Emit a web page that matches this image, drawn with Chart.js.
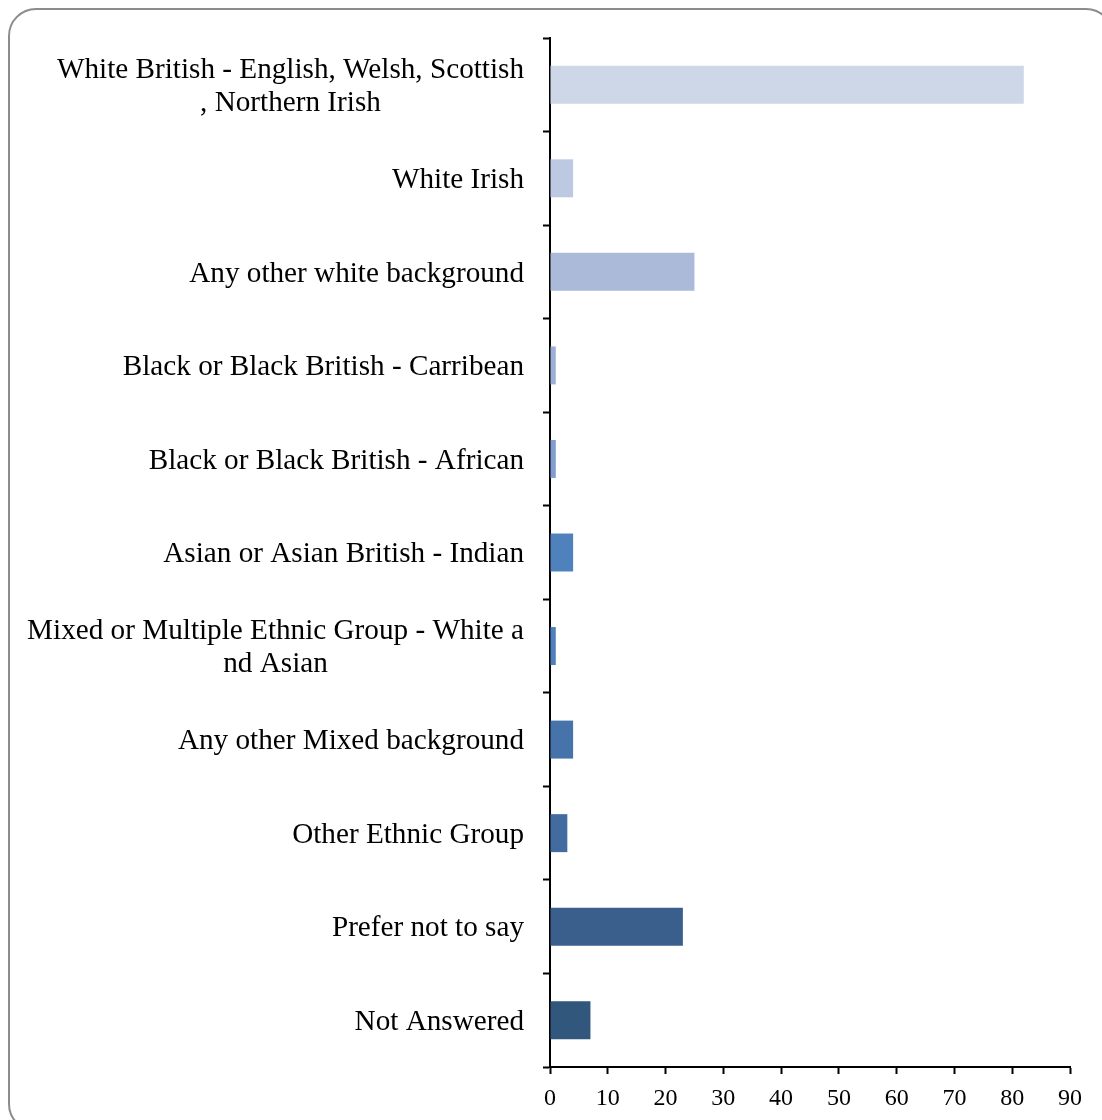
<!DOCTYPE html>
<html>
<head>
<meta charset="utf-8">
<script src="https://cdn.jsdelivr.net/npm/chart.js@4"></script>
<style>
  html, body { margin: 0; padding: 0; background: #fff; overflow: hidden; }
  #wrap { position: relative; width: 1102px; height: 1120px; }
  #frame {
    position: absolute; left: 8px; top: 8px; width: 1106px; height: 1124px;
    border: 2px solid #8c8c8c; border-radius: 28px; box-sizing: border-box;
    pointer-events: none;
  }
  canvas { position: absolute; left: 0; top: 0; }
</style>
</head>
<body>
<div id="wrap">
  <canvas id="chart" width="1102" height="1120"></canvas>
  <div id="frame"></div>
</div>
<script>
// categorías (las de dos líneas van como arrays)
const categories = [
  ['White British - English, Welsh, Scottish', ', Northern Irish'],
  'White Irish',
  'Any other white background',
  'Black or Black British - Carribean',
  'Black or Black British - African',
  'Asian or Asian British - Indian',
  ['Mixed or Multiple Ethnic Group - White a', 'nd Asian'],
  'Any other Mixed background',
  'Other Ethnic Group',
  'Prefer not to say',
  'Not Answered',
];
const counts = [82, 4, 25, 1, 1, 4, 1, 4, 3, 23, 7];
const barColors = [
  '#cdd7e7', '#bdc9e2', '#abbad8', '#9cb0d7', '#7f9dcf', '#4f81bd',
  '#4e80bc', '#4674aa', '#426c9f', '#3b5f8d', '#32577d',
];
const xTicks = [0, 10, 20, 30, 40, 50, 60, 70, 80, 90];

const FONT = "'Liberation Serif', 'Times New Roman', serif";
const LABEL_SIZE = 29.2;
const LINE_H = 33;
const LABEL_GAP = 26; // del eje al borde derecho del texto

// Etiquetas del eje Y: bloque alineado a la derecha, líneas centradas entre sí
const centeredLabels = {
  id: 'centeredLabels',
  afterDraw(chart) {
    const scale = chart.scales.y;
    const ctx = chart.ctx;
    ctx.save();
    ctx.font = `${LABEL_SIZE}px ${FONT}`;
    ctx.fillStyle = '#000';
    ctx.textAlign = 'center';
    ctx.textBaseline = 'middle';
    const right = scale.right - LABEL_GAP;
    chart.data.labels.forEach((lbl, i) => {
      const lines = Array.isArray(lbl) ? lbl : [lbl];
      const maxW = Math.max(...lines.map(l => ctx.measureText(l).width));
      const cx = right - maxW / 2;
      const yc = scale.getPixelForTick(i) + 2;
      const y0 = yc - (lines.length - 1) * LINE_H / 2;
      lines.forEach((l, j) => ctx.fillText(l, cx, y0 + j * LINE_H));
    });
    ctx.restore();
  },
};

new Chart(document.getElementById('chart'), {
  type: 'bar',
  data: {
    labels: categories,
    datasets: [{
      data: counts,
      backgroundColor: barColors,
      borderWidth: 0,
      categoryPercentage: 1,
      barPercentage: 0.406,
    }],
  },
  plugins: [centeredLabels],
  options: {
    indexAxis: 'y',
    responsive: false,
    animation: false,
    layout: { padding: { left: 0, right: 32, top: 38, bottom: 0 } },
    plugins: { legend: { display: false }, tooltip: { enabled: false } },
    scales: {
      y: {
        grid: {
          drawOnChartArea: false,
          offset: true,
          tickLength: 7,
          tickColor: '#000',
          tickWidth: 2,
        },
        border: { color: '#000', width: 2 },
        ticks: { display: false },
        afterFit: (scale) => { scale.width = 550; },
      },
      x: {
        min: 0,
        max: 90,
        afterBuildTicks: (scale) => { scale.ticks = xTicks.map(v => ({ value: v })); },
        grid: {
          drawOnChartArea: false,
          tickLength: 7,
          tickColor: '#000',
          tickWidth: 2,
        },
        border: { color: '#000', width: 2 },
        ticks: {
          color: '#000',
          padding: 10,
          maxRotation: 0,
          font: { family: FONT, size: 24 },
        },
        afterFit: (scale) => { scale.height = 53; },
      },
    },
  },
});
</script>
</body>
</html>
